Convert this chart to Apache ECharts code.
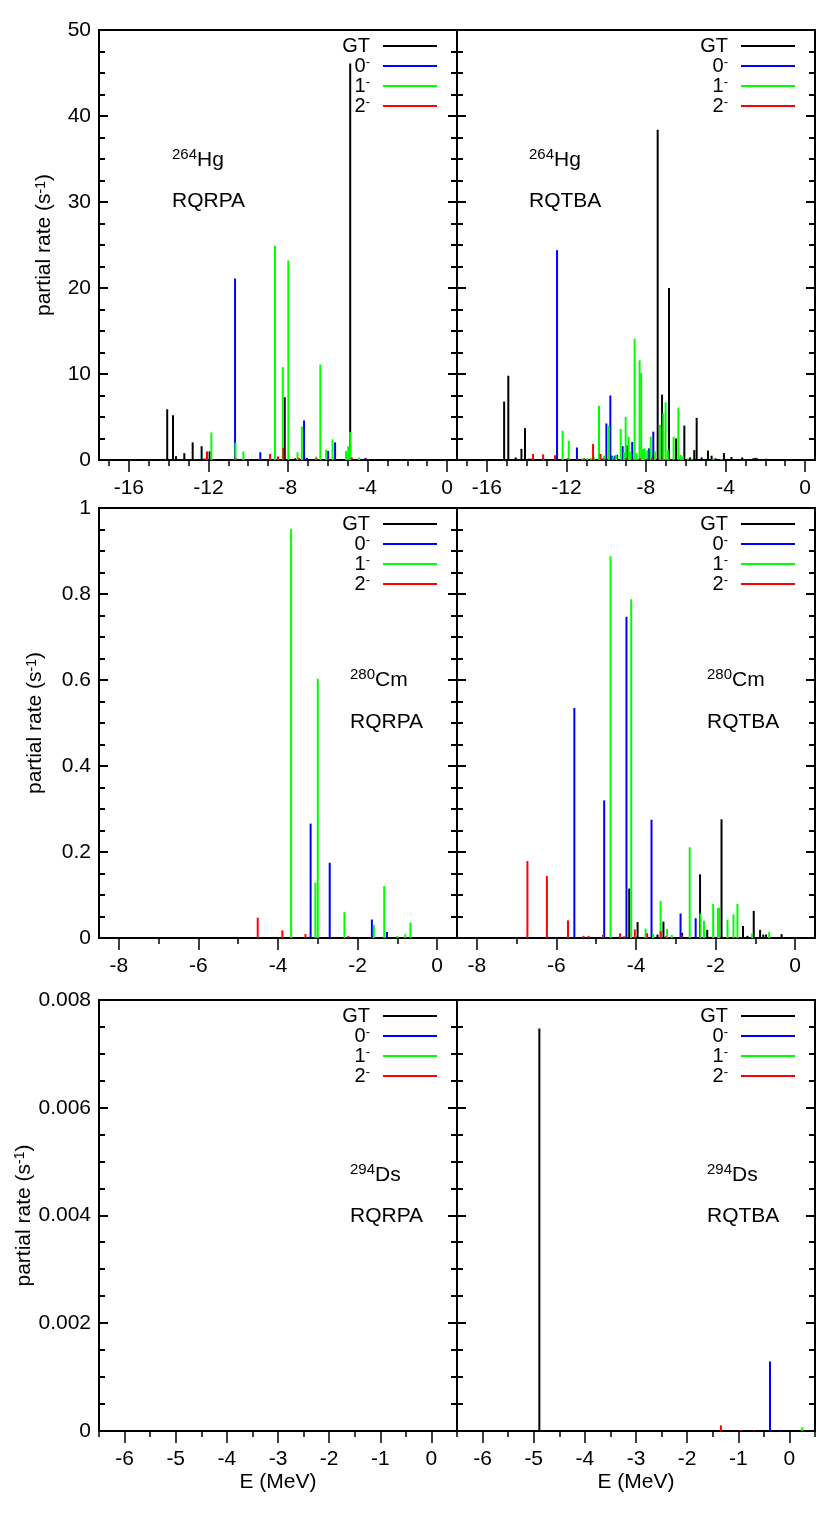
<!DOCTYPE html>
<html>
<head>
<meta charset="utf-8">
<script src="https://cdn.jsdelivr.net/npm/echarts@6/dist/echarts.min.js"></script>
<style>html,body{margin:0;padding:0;background:#fff}#c{width:830px;height:1539px}</style>
</head>
<body>
<div id="c"></div>
<script>
// ---------------- DATA ----------------
const CHANNELS = ['GT', '0-', '1-', '2-'];
const CHANNEL_COLORS = ['#000000', '#0000ff', '#00ff00', '#ff0000'];

// 264Hg, RQRPA  [E (MeV), partial rate (1/s)]
const HG_RQRPA_GT = [[-14.07,5.9],[-13.78,5.2],[-13.63,0.45],[-13.21,0.8],[-12.79,2.05],[-12.34,1.6],[-11.94,1.0],[-8.16,7.3],[-7.64,0.2],[-4.87,46.1]];
const HG_RQRPA_0 = [[-10.66,21.1],[-9.39,0.9],[-7.19,4.6],[-7.05,0.25],[-5.98,1.05],[-5.63,2.05],[-4.1,0.25]];
const HG_RQRPA_1 = [[-11.85,3.2],[-10.64,2.0],[-10.24,1.0],[-8.65,24.9],[-8.26,10.8],[-7.98,23.2],[-7.52,0.9],[-7.3,3.9],[-6.58,0.4],[-6.37,11.1],[-6.08,1.2],[-5.76,2.4],[-5.08,1.05],[-4.97,1.6],[-4.87,3.25],[-4.42,0.3]];
const HG_RQRPA_2 = [[-12.2,0.2],[-12.07,1.0],[-10.62,0.2],[-9.39,0.15],[-8.9,0.7],[-8.5,0.4],[-8.23,1.4],[-7.45,0.25],[-6.57,0.2],[-5.98,0.2],[-4.79,0.3]];

// 264Hg, RQTBA
const HG_RQTBA_GT = [[-15.13,6.8],[-14.92,9.8],[-14.55,0.3],[-14.26,1.3],[-14.08,3.7],[-13.9,0.15],[-13.8,0.15],[-10.1,0.2],[-7.62,0.6],[-7.41,38.4],[-7.19,7.6],[-6.84,20.0],[-6.49,2.5],[-6.07,4.0],[-5.78,0.3],[-5.57,1.15],[-5.45,4.9],[-5.2,0.3],[-4.88,1.1],[-4.7,0.5],[-4.5,0.2],[-4.08,0.8],[-3.7,0.35],[-3.16,0.3],[-2.6,0.2],[-2.5,0.25],[-2.4,0.2],[-1.95,0.15],[-1.7,0.1]];
const HG_RQTBA_0 = [[-12.47,24.4],[-12.2,0.1],[-11.47,1.45],[-9.99,4.25],[-9.79,7.5],[-9.7,0.5],[-9.55,0.5],[-9.45,0.6],[-9.17,1.6],[-8.94,1.7],[-8.69,2.1],[-7.85,1.35],[-7.63,3.3]];
const HG_RQTBA_1 = [[-12.19,3.4],[-11.88,2.25],[-11.2,0.2],[-10.95,0.2],[-10.75,0.25],[-10.6,0.3],[-10.36,6.3],[-10.1,0.5],[-9.87,4.0],[-9.65,0.4],[-9.5,0.6],[-9.27,3.6],[-9.1,0.9],[-9.02,5.0],[-8.87,2.7],[-8.78,1.0],[-8.57,14.1],[-8.47,0.8],[-8.32,11.6],[-8.24,10.1],[-8.15,1.3],[-8.07,1.35],[-7.93,1.15],[-7.76,2.7],[-7.55,1.0],[-7.3,4.1],[-7.13,5.4],[-7.01,6.7],[-6.9,1.2],[-6.61,2.7],[-6.37,6.1],[-6.25,0.6],[-6.15,0.4],[-5.9,0.2],[-5.7,0.15],[-4.6,0.2],[-4.2,0.1]];
const HG_RQTBA_2 = [[-13.68,0.7],[-13.17,0.66],[-12.57,0.55],[-11.93,0.2],[-11.45,0.15],[-11.1,0.2],[-10.66,1.85],[-10.28,0.7],[-10.15,0.2],[-9.6,0.15],[-9.0,0.2],[-8.7,0.15],[-8.3,0.2],[-7.95,0.15],[-7.7,0.2],[-7.2,0.2],[-6.8,0.15]];

// 280Cm, RQRPA
const CM_RQRPA_GT = [];
const CM_RQRPA_0 = [[-3.18,0.266],[-2.7,0.175],[-1.64,0.043],[-1.26,0.014]];
const CM_RQRPA_1 = [[-3.67,0.952],[-3.06,0.129],[-3.0,0.603],[-2.33,0.06],[-1.59,0.03],[-1.33,0.121],[-1.0,0.005],[-0.8,0.009],[-0.67,0.036]];
const CM_RQRPA_2 = [[-4.51,0.047],[-3.89,0.018],[-3.31,0.009],[-2.23,0.005]];

// 280Cm, RQTBA
const CM_RQTBA_GT = [[-4.17,0.115],[-3.96,0.037],[-3.46,0.008],[-3.31,0.038],[-2.84,0.012],[-2.39,0.148],[-2.21,0.019],[-1.85,0.276],[-1.31,0.028],[-1.2,0.005],[-1.04,0.063],[-0.88,0.019],[-0.8,0.008],[-0.73,0.008],[-0.34,0.009]];
const CM_RQTBA_0 = [[-5.55,0.535],[-4.8,0.32],[-4.24,0.747],[-3.61,0.275],[-2.88,0.057],[-2.5,0.046]];
const CM_RQTBA_1 = [[-4.64,0.888],[-4.12,0.788],[-3.76,0.022],[-3.57,0.01],[-3.38,0.086],[-3.22,0.021],[-3.1,0.007],[-2.65,0.211],[-2.38,0.057],[-2.29,0.04],[-2.06,0.079],[-1.94,0.07],[-1.91,0.07],[-1.7,0.042],[-1.55,0.055],[-1.45,0.079],[-1.08,0.011],[-0.65,0.014]];
const CM_RQTBA_2 = [[-6.73,0.179],[-6.24,0.144],[-5.71,0.041],[-5.32,0.005],[-5.19,0.005],[-4.83,0.007],[-4.4,0.011],[-4.3,0.004],[-4.03,0.02],[-3.72,0.011],[-3.38,0.016],[-3.25,0.004],[-2.85,0.006]];

// 294Ds, RQRPA (nothing visible on this scale)
const DS_RQRPA_GT = [];
const DS_RQRPA_0 = [];
const DS_RQRPA_1 = [];
const DS_RQRPA_2 = [];

// 294Ds, RQTBA
const DS_RQTBA_GT = [[-4.89,0.00747]];
const DS_RQTBA_0 = [[-0.38,0.00129],[-0.17,0.00002]];
const DS_RQTBA_1 = [[0.25,0.00007]];
const DS_RQTBA_2 = [[-1.34,0.000104],[-0.95,0.00002],[-0.69,0.00001]];

// axis ticks per row
const X_RANGE = [[-17.5, 0.5], [-8.5, 0.5], [-6.5, 0.5]];
const X_MAJOR = [[-16, -12, -8, -4, 0], [-8, -6, -4, -2, 0], [-6, -5, -4, -3, -2, -1, 0]];
const X_MINOR = [
  [-17, -16, -15, -14, -13, -12, -11, -10, -9, -8, -7, -6, -5, -4, -3, -2, -1, 0],
  [-8, -7, -6, -5, -4, -3, -2, -1, 0],
  [-6.5, -6, -5.5, -5, -4.5, -4, -3.5, -3, -2.5, -2, -1.5, -1, -0.5, 0, 0.5]
];
const Y_MAX = [50, 1, 0.008];
const Y_MAJOR = [[0, 10, 20, 30, 40, 50], [0, 0.2, 0.4, 0.6, 0.8, 1], [0, 0.002, 0.004, 0.006, 0.008]];
const Y_MINOR = [
  [2.5, 5, 7.5, 12.5, 15, 17.5, 22.5, 25, 27.5, 32.5, 35, 37.5, 42.5, 45, 47.5],
  [0.05, 0.1, 0.15, 0.25, 0.3, 0.35, 0.45, 0.5, 0.55, 0.65, 0.7, 0.75, 0.85, 0.9, 0.95],
  [0.0005, 0.001, 0.0015, 0.0025, 0.003, 0.0035, 0.0045, 0.005, 0.0055, 0.0065, 0.007, 0.0075]
];

const PANELS = [
  { row: 0, col: 0, mass: '264', el: 'Hg', method: 'RQRPA', series: [HG_RQRPA_GT, HG_RQRPA_0, HG_RQRPA_1, HG_RQRPA_2] },
  { row: 0, col: 1, mass: '264', el: 'Hg', method: 'RQTBA', series: [HG_RQTBA_GT, HG_RQTBA_0, HG_RQTBA_1, HG_RQTBA_2] },
  { row: 1, col: 0, mass: '280', el: 'Cm', method: 'RQRPA', series: [CM_RQRPA_GT, CM_RQRPA_0, CM_RQRPA_1, CM_RQRPA_2] },
  { row: 1, col: 1, mass: '280', el: 'Cm', method: 'RQTBA', series: [CM_RQTBA_GT, CM_RQTBA_0, CM_RQTBA_1, CM_RQTBA_2] },
  { row: 2, col: 0, mass: '294', el: 'Ds', method: 'RQRPA', series: [DS_RQRPA_GT, DS_RQRPA_0, DS_RQRPA_1, DS_RQRPA_2] },
  { row: 2, col: 1, mass: '294', el: 'Ds', method: 'RQTBA', series: [DS_RQTBA_GT, DS_RQTBA_0, DS_RQTBA_1, DS_RQTBA_2] }
];

// ---------------- LAYOUT ----------------
const FONT = '"Liberation Sans", Arial, Helvetica, sans-serif';
const ROW_TOP = [30, 508, 1000];
const ROW_H = [430, 430, 431];
const COL_LEFT = [99, 457];
const COL_W = 358;
const Y_NAME_GAP = [44, 53, 64];
const NOTE_X = [[73, 72], [251, 250], [251, 250]];
const NOTE_Y1 = [130, 172, 175];
const NOTE_Y2 = [171, 214, 216];
const TICK = { color: '#000', width: 1.5 };
const Y_TICK_LEN = [9, 6]; // major, minor (px), drawn inward from both vertical borders

const grids = [], xAxes = [], yAxes = [], series = [], legends = [], graphics = [];

function spike(color) {
  return function (params, api) {
    const x = api.value(0), y = api.value(1);
    const a = api.coord([x, 0]);
    const b = api.coord([x, y]);
    return {
      type: 'line',
      shape: { x1: a[0], y1: a[1], x2: b[0], y2: b[1] },
      style: { stroke: color, lineWidth: 2 }
    };
  };
}

// inward y ticks on both vertical borders, placed through the y scale
function yTicks(xmin, xmax) {
  return function (params, api) {
    const v = api.value(1);
    const len = Y_TICK_LEN[api.value(2)];
    const pl = api.coord([xmin, v]);
    const pr = api.coord([xmax, v]);
    const yl = Math.round(pl[1]);
    return {
      type: 'group',
      children: [
        { type: 'line', shape: { x1: pl[0], y1: yl, x2: pl[0] + len, y2: yl }, style: { stroke: '#000', lineWidth: 2 } },
        { type: 'line', shape: { x1: pr[0] - len, y1: yl, x2: pr[0], y2: yl }, style: { stroke: '#000', lineWidth: 2 } }
      ]
    };
  };
}

PANELS.forEach((p, g) => {
  const r = p.row, c = p.col;
  const left = COL_LEFT[c], top = ROW_TOP[r];
  grids.push({ left: left, top: top, width: COL_W, height: ROW_H[r], show: true,
    borderColor: '#000', borderWidth: 2, backgroundColor: 'transparent', containLabel: false });

  xAxes.push({
    type: 'value', gridIndex: g, position: 'bottom', min: X_RANGE[r][0], max: X_RANGE[r][1],
    axisLine: { show: false, onZero: false }, splitLine: { show: false },
    axisTick: { show: true, inside: false, length: 12, customValues: X_MAJOR[r], lineStyle: TICK },
    axisLabel: { show: true, customValues: X_MAJOR[r], margin: 18, fontSize: 21, color: '#000', fontFamily: FONT },
    name: r === 2 ? 'E (MeV)' : '', nameLocation: 'middle', nameGap: 41,
    nameTextStyle: { fontSize: 21, color: '#000', fontFamily: FONT }
  });
  xAxes.push({
    type: 'value', gridIndex: g, position: 'bottom', min: X_RANGE[r][0], max: X_RANGE[r][1],
    axisLine: { show: false, onZero: false }, splitLine: { show: false },
    axisTick: { show: true, inside: false, length: 6, customValues: X_MINOR[r], lineStyle: TICK },
    axisLabel: { show: false }
  });

  yAxes.push({
    type: 'value', gridIndex: g, position: 'left', min: 0, max: Y_MAX[r],
    axisLine: { show: false, onZero: false }, splitLine: { show: false },
    axisTick: { show: false },
    axisLabel: { show: c === 0, customValues: Y_MAJOR[r], margin: 8, fontSize: 21, color: '#000', fontFamily: FONT },
    name: c === 0 ? 'partial rate (s{sup|-1})' : '', nameLocation: 'middle', nameGap: Y_NAME_GAP[r],
    nameTextStyle: { fontSize: 21, color: '#000', fontFamily: FONT,
      rich: { sup: { fontSize: 14, color: '#000', fontFamily: FONT, verticalAlign: 'top' } } }
  });

  // y tick marks (major = 0, minor = 1)
  const tickData = Y_MAJOR[r].map(v => [X_RANGE[r][0], v, 0]).concat(Y_MINOR[r].map(v => [X_RANGE[r][0], v, 1]));
  series.push({
    type: 'custom', name: 'yticks', coordinateSystem: 'cartesian2d',
    xAxisIndex: 2 * g, yAxisIndex: g, data: tickData, encode: { x: 0, y: 1 },
    renderItem: yTicks(X_RANGE[r][0], X_RANGE[r][1]), silent: true, animation: false, z: 10
  });

  p.series.forEach((d, k) => {
    series.push({
      type: 'custom', name: CHANNELS[k], coordinateSystem: 'cartesian2d',
      xAxisIndex: 2 * g, yAxisIndex: g, data: d,
      encode: { x: 0, y: 1 },
      itemStyle: { color: CHANNEL_COLORS[k] },
      renderItem: spike(CHANNEL_COLORS[k]),
      z: 2 + k, silent: true, animation: false
    });
  });

  legends.push({
    orient: 'vertical', align: 'right', padding: 0, itemGap: 0,
    right: 830 - (left + COL_W - 20), top: top + 6,
    itemWidth: 54, itemHeight: 2, selectedMode: false,
    data: CHANNELS.map(n => ({ name: n, icon: 'rect' })),
    formatter: n => n === 'GT' ? '{n|GT}' : '{n|' + n[0] + '}{s|-}',
    textStyle: {
      color: '#000', fontFamily: FONT, fontSize: 20, padding: [0, 8, 0, 0],
      rich: {
        n: { fontSize: 20, lineHeight: 20, color: '#000', fontFamily: FONT },
        s: { fontSize: 13, lineHeight: 13, color: '#000', fontFamily: FONT, verticalAlign: 'top' }
      }
    }
  });

  graphics.push({
    type: 'text', x: left + NOTE_X[r][c], y: top + NOTE_Y1[r], silent: true,
    style: {
      text: '{s|' + p.mass + '}{m|' + p.el + '}', textAlign: 'left', textVerticalAlign: 'middle',
      fill: '#000', fontFamily: FONT, fontSize: 21,
      rich: {
        s: { fontSize: 15, fill: '#000', fontFamily: FONT, verticalAlign: 'top' },
        m: { fontSize: 21, fill: '#000', fontFamily: FONT, lineHeight: 26 }
      }
    }
  });
  graphics.push({
    type: 'text', x: left + NOTE_X[r][c], y: top + NOTE_Y2[r], silent: true,
    style: { text: p.method, textAlign: 'left', textVerticalAlign: 'middle', fill: '#000', fontFamily: FONT, fontSize: 21 }
  });
});

const chart = echarts.init(document.getElementById('c'), null, { renderer: 'canvas' });
chart.setOption({
  animation: false,
  backgroundColor: '#fff',
  textStyle: { fontFamily: FONT },
  grid: grids, xAxis: xAxes, yAxis: yAxes, series: series, legend: legends, graphic: graphics
});
</script>
</body>
</html>
